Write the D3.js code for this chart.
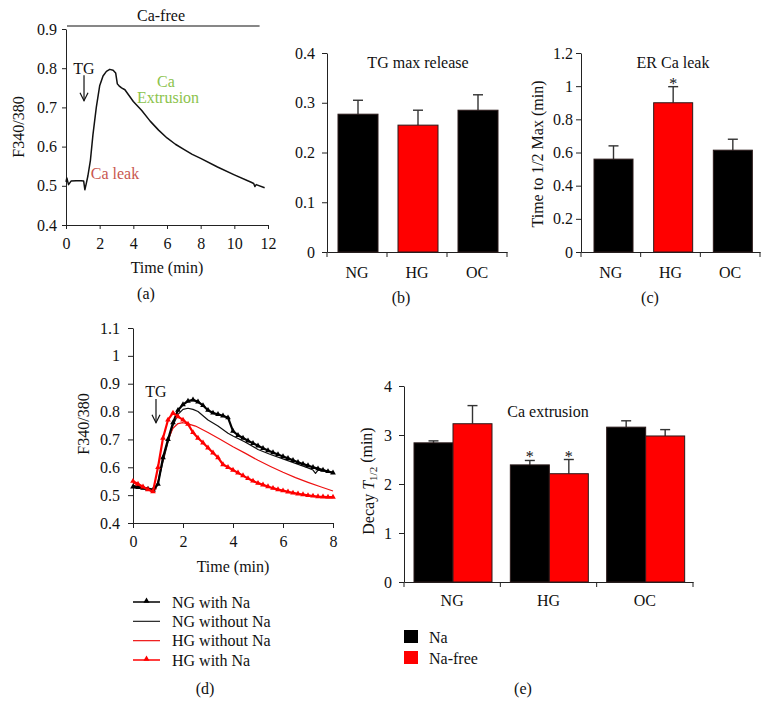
<!DOCTYPE html>
<html lang="en">
<head>
  <meta charset="UTF-8">
  <script src="https://d3js.org/d3.v7.min.js" charset="utf-8"></script>
  <title>ER Ca handling</title>
  <style>
    body { margin: 0; background: #fff; }
    text { font-family: "Liberation Serif", "DejaVu Serif", serif; }
  </style>
</head>
<body>
  <script type="text/javascript">

    const w = 771;
    const h = 721;
    const FONT = "Liberation Serif";
    const FS = 16;

    // ---- (a) single trace in Ca-free ----
    var aTime = [0, 0.05, 0.15, 0.3, 0.6, 0.9, 1.05, 1.12, 1.2, 1.3, 1.45, 1.6, 1.8, 2.0, 2.2, 2.4, 2.6, 2.8, 2.95, 3.05,
      3.15, 3.3, 3.5, 4, 4.5, 5, 5.5, 6, 6.5, 7, 7.5, 8, 9, 10, 11, 11.15, 11.22, 11.3, 11.8];
    var aRatio = [0.51, 0.52, 0.503, 0.512, 0.513, 0.513, 0.512, 0.49, 0.505, 0.525, 0.565, 0.63, 0.70, 0.755, 0.78, 0.792, 0.797, 0.795, 0.788, 0.76,
      0.755, 0.75, 0.745, 0.715, 0.692, 0.665, 0.642, 0.622, 0.606, 0.593, 0.58, 0.57, 0.548, 0.528, 0.509, 0.506, 0.498, 0.503, 0.495];
    var aXTicks = [0, 2, 4, 6, 8, 10, 12];
    var aYTicks = [0.4, 0.5, 0.6, 0.7, 0.8, 0.9];
    var caFreeSpan = [0, 11.5];

    // ---- (b) and (c) ----
    var groups = ["NG", "HG", "OC"];
    var tgMax = [0.277, 0.255, 0.285];
    var tgMaxErr = [0.028, 0.030, 0.031];
    var bYTicks = [0, 0.1, 0.2, 0.3, 0.4];

    var halfMax = [0.56, 0.90, 0.614];
    var halfMaxErr = [0.08, 0.097, 0.066];
    var halfMaxSig = [false, true, false];
    var cYTicks = [0, 0.2, 0.4, 0.6, 0.8, 1, 1.2];

    // ---- (d) traces ----
    var dTime = [0, 0.2, 0.4, 0.6, 0.8, 1.0, 1.2, 1.4, 1.6, 1.8,
      2.0, 2.2, 2.4, 2.6, 2.8, 3.0, 3.2, 3.4, 3.6, 3.8,
      4.0, 4.2, 4.4, 4.6, 4.8, 5.0, 5.2, 5.4, 5.6, 5.8,
      6.0, 6.2, 6.4, 6.6, 6.8, 7.0, 7.2, 7.4, 7.6, 7.8,
      8.0];
    var ngWithNa = [0.530, 0.528, 0.525, 0.522, 0.518, 0.540, 0.635, 0.700, 0.760, 0.805,
      0.825, 0.838, 0.842, 0.835, 0.822, 0.805, 0.795, 0.790, 0.785, 0.778,
      0.730, 0.715, 0.705, 0.695, 0.686, 0.677, 0.668, 0.660, 0.653, 0.646,
      0.639, 0.632, 0.625, 0.618, 0.612, 0.606, 0.600, 0.595, 0.590, 0.585,
      0.580];
    var hgWithNa = [0.550, 0.540, 0.530, 0.520, 0.513, 0.600, 0.705, 0.770, 0.795, 0.782,
      0.770, 0.755, 0.725, 0.705, 0.688, 0.670, 0.652, 0.635, 0.610, 0.600,
      0.590, 0.580, 0.570, 0.560, 0.551, 0.543, 0.537, 0.531, 0.525, 0.520,
      0.516, 0.512, 0.508, 0.505, 0.502, 0.499, 0.497, 0.495, 0.494, 0.493,
      0.493];
    var ngNoNaTime = [0, 0.3, 0.6, 0.9, 1.0, 1.2, 1.4, 1.6, 1.8, 2.0, 2.2, 2.4, 2.6, 2.8,
      3.0, 3.4, 3.8, 4.0, 4.5, 5.0, 5.5, 6.0, 6.5, 7.0, 7.2, 7.3, 7.4, 8.0];
    var ngNoNa = [0.535, 0.53, 0.525, 0.52, 0.545, 0.62, 0.69, 0.75, 0.79, 0.808, 0.812, 0.808, 0.80, 0.785,
      0.77, 0.748, 0.722, 0.712, 0.69, 0.664, 0.646, 0.63, 0.614, 0.598, 0.59, 0.578, 0.59, 0.583];
    var hgNoNaTime = [0, 0.3, 0.6, 0.8, 0.9, 1.0, 1.2, 1.4, 1.6, 1.8, 2.0, 2.2,
      2.5, 3.0, 3.5, 4.0, 4.5, 5.0, 5.5, 6.0, 6.5, 7.0, 7.5, 8.0];
    var hgNoNa = [0.545, 0.53, 0.52, 0.515, 0.52, 0.55, 0.63, 0.70, 0.74, 0.757, 0.76, 0.756,
      0.748, 0.725, 0.70, 0.674, 0.65, 0.625, 0.603, 0.582, 0.563, 0.546, 0.53, 0.515];
    var dXTicks = [0, 2, 4, 6, 8];
    var dYTicks = [0.4, 0.5, 0.6, 0.7, 0.8, 0.9, 1, 1.1];

    // ---- (e) Ca extrusion ----
    var conditions = ["Na", "Na-free"];
    var decayNa = [2.84, 2.39, 3.16];
    var decayNaErr = [0.04, 0.09, 0.13];
    var decayNaSig = [false, true, false];
    var decayNaFree = [3.23, 2.21, 2.98];
    var decayNaFreeErr = [0.37, 0.29, 0.13];
    var decayNaFreeSig = [false, true, false];
    var eYTicks = [0, 1, 2, 3, 4];

    var svg = d3.select("body").append("svg")
      .attr("width", w)
      .attr("height", h);

    function fontAxis(g) {
      g.attr("font-family", FONT).attr("font-size", FS);
      g.selectAll("text").attr("fill", "#111");
      g.selectAll("path, line").attr("stroke", "#222");
    }

    function addText(str, x, y, opts) {
      opts = opts || {};
      return svg.append("text")
        .attr("x", x).attr("y", y)
        .attr("dy", "0.35em")
        .attr("text-anchor", opts.anchor || "middle")
        .attr("font-size", opts.size || FS)
        .attr("fill", opts.color || "#111")
        .text(str);
    }

    function addYLabel(str, x, y) {
      return svg.append("text")
        .attr("transform", "translate(" + x + "," + y + ") rotate(-90)")
        .attr("dy", "0.35em")
        .attr("text-anchor", "middle")
        .attr("font-size", FS)
        .attr("fill", "#111")
        .text(str);
    }

    function arrowDown(x, y1, y2) {
      svg.append("line")
        .attr("x1", x).attr("x2", x).attr("y1", y1).attr("y2", y2)
        .attr("stroke", "#111").attr("stroke-width", 1.2);
      svg.append("path")
        .attr("d", "M" + (x - 4) + "," + (y2 - 8) + " L" + x + "," + y2 + " L" + (x + 4) + "," + (y2 - 8))
        .attr("fill", "none").attr("stroke", "#111").attr("stroke-width", 1.2);
    }

    // ---------- line panel axes ----------
    function linePanel(c) {
      var x = d3.scaleLinear().domain(c.xDomain).range([c.left, c.right]);
      var y = d3.scaleLinear().domain(c.yDomain).range([c.bottom, c.top]);
      svg.append("g")
        .attr("transform", "translate(" + c.left + ",0)")
        .call(d3.axisLeft(y).tickValues(c.yTicks).tickFormat(String).tickSize(c.tick).tickSizeOuter(0).tickPadding(c.yPad))
        .call(fontAxis);
      svg.append("g")
        .attr("transform", "translate(0," + c.bottom + ")")
        .call(d3.axisBottom(x).tickValues(c.xTicks).tickFormat(String).tickSize(c.tick).tickSizeOuter(0).tickPadding(c.xPad))
        .call(fontAxis);
      return { x: x, y: y };
    }

    function drawTrace(sc, times, vals, color, width, marker) {
      var pts = times.map(function (t, i) { return [t, vals[i]]; });
      var line = d3.line()
        .x(function (d) { return sc.x(d[0]); })
        .y(function (d) { return sc.y(d[1]); });
      svg.append("path")
        .datum(pts)
        .attr("d", line)
        .attr("fill", "none")
        .attr("stroke", color)
        .attr("stroke-width", width)
        .attr("stroke-linejoin", "round");
      if (marker) {
        svg.append("g").selectAll("path")
          .data(pts)
          .enter()
          .append("path")
          .attr("d", d3.symbol(d3.symbolTriangle).size(14))
          .attr("transform", function (d) { return "translate(" + sc.x(d[0]) + "," + sc.y(d[1]) + ")"; })
          .attr("fill", color);
      }
    }

    // ---------- bar panel ----------
    function barPanel(c) {
      var x = d3.scaleBand().domain(groups).range([c.left, c.right]);
      var inner = d3.scaleBand().domain(d3.range(c.series.length)).range(c.inner);
      var y = d3.scaleLinear().domain(c.yDomain).range([c.bottom, c.top]);

      svg.append("g")
        .attr("transform", "translate(" + c.left + ",0)")
        .call(d3.axisLeft(y).tickValues(c.yTicks).tickFormat(String).tickSize(5).tickSizeOuter(0).tickPadding(c.yPad))
        .call(fontAxis);

      var xa = svg.append("g")
        .attr("transform", "translate(0," + c.bottom + ")")
        .call(d3.axisBottom(x).tickSize(0).tickPadding(c.xPad))
        .call(fontAxis);
      // ticks sit on group boundaries
      xa.selectAll(".edge")
        .data(groups.map(function (g) { return x(g); }).concat([x.range()[1]]))
        .enter()
        .append("line")
        .attr("x1", function (d) { return d; })
        .attr("x2", function (d) { return d; })
        .attr("y1", 0).attr("y2", 5)
        .attr("stroke", "#222");

      c.series.forEach(function (s, si) {
        var rows = groups.map(function (g, i) {
          return { g: g, v: s.values[i], e: s.errs[i], sig: s.sig[i], fill: s.fill[i] };
        });
        var cx = function (d) { return x(d.g) + inner(si) + inner.bandwidth() / 2; };

        svg.append("g").selectAll("line")
          .data(rows)
          .enter()
          .append("line")
          .attr("x1", cx).attr("x2", cx)
          .attr("y1", function (d) { return y(d.v); })
          .attr("y2", function (d) { return y(d.v + d.e); })
          .attr("stroke", "#333").attr("stroke-width", 1.4);
        svg.append("g").selectAll("line")
          .data(rows)
          .enter()
          .append("line")
          .attr("x1", function (d) { return cx(d) - 5; })
          .attr("x2", function (d) { return cx(d) + 5; })
          .attr("y1", function (d) { return y(d.v + d.e); })
          .attr("y2", function (d) { return y(d.v + d.e); })
          .attr("stroke", "#333").attr("stroke-width", 1.4);

        svg.append("g").selectAll("rect")
          .data(rows)
          .enter()
          .append("rect")
          .attr("x", function (d) { return x(d.g) + inner(si); })
          .attr("y", function (d) { return y(d.v); })
          .attr("width", inner.bandwidth())
          .attr("height", function (d) { return y(0) - y(d.v); })
          .attr("fill", function (d) { return d.fill; })
          .attr("stroke", "#2a1a1a")
          .attr("stroke-width", 1);

        svg.append("g").selectAll("text")
          .data(rows.filter(function (d) { return d.sig; }))
          .enter()
          .append("text")
          .attr("x", cx)
          .attr("y", function (d) { return y(d.v + d.e) + 2; })
          .attr("text-anchor", "middle")
          .attr("font-size", FS)
          .attr("fill", "#111")
          .text("*");
      });
      return { x: x, y: y };
    }

    // ===== (a) =====
    var sa = linePanel({
      left: 66, right: 268, top: 29, bottom: 225,
      xDomain: [0, 12], yDomain: [0.4, 0.9],
      xTicks: aXTicks, yTicks: aYTicks, tick: 4, xPad: 9, yPad: 5
    });
    drawTrace(sa, aTime, aRatio, "#111", 1.5, false);
    svg.append("line")
      .attr("x1", sa.x(caFreeSpan[0]) + 1).attr("x2", sa.x(caFreeSpan[1]))
      .attr("y1", 26).attr("y2", 26)
      .attr("stroke", "#111").attr("stroke-width", 1.2);
    addText("Ca-free", 161, 15);
    addText("TG", sa.x(1.07), sa.y(0.80));
    arrowDown(sa.x(1.07), sa.y(0.782), sa.y(0.717));
    addText("Ca leak", 115, 173, { color: "#c9574f" });
    addText("Ca", 166, 81, { color: "#8cc34c" });
    addText("Extrusion", 168, 97, { color: "#8cc34c" });
    addYLabel("F340/380", 18, 127);
    addText("Time (min)", 167, 267);
    addText("(a)", 146, 293);

    // ===== (b) =====
    barPanel({
      left: 327, right: 507, top: 53, bottom: 252,
      yDomain: [0, 0.4], yTicks: bYTicks, yPad: 7, xPad: 15,
      inner: [11, 51],
      series: [{ values: tgMax, errs: tgMaxErr, sig: [false, false, false], fill: ["#000", "#ff0000", "#000"] }]
    });
    addText("TG max release", 418, 62);
    addText("(b)", 401, 297);

    // ===== (c) =====
    barPanel({
      left: 581, right: 760, top: 53, bottom: 252,
      yDomain: [0, 1.2], yTicks: cYTicks, yPad: 3, xPad: 15,
      inner: [13, 52],
      series: [{ values: halfMax, errs: halfMaxErr, sig: halfMaxSig, fill: ["#000", "#ff0000", "#000"] }]
    });
    addText("ER Ca leak", 673, 62);
    addYLabel("Time to 1/2 Max (min)", 537, 154);
    addText("(c)", 650, 297);

    // ===== (d) =====
    var sd = linePanel({
      left: 133, right: 333, top: 328, bottom: 523,
      xDomain: [0, 8], yDomain: [0.4, 1.1],
      xTicks: dXTicks, yTicks: dYTicks, tick: 5, xPad: 8, yPad: 8
    });
    drawTrace(sd, ngNoNaTime, ngNoNa, "#111", 1.2, false);
    drawTrace(sd, hgNoNaTime, hgNoNa, "#ee1111", 1.2, false);
    drawTrace(sd, dTime, ngWithNa, "#000", 2.2, true);
    drawTrace(sd, dTime, hgWithNa, "#ff0000", 2.2, true);
    addText("TG", sd.x(0.92), sd.y(0.874));
    arrowDown(sd.x(0.92), sd.y(0.845), sd.y(0.76));
    addYLabel("F340/380", 83, 424);
    addText("Time (min)", 233, 566);

    var dLegend = [
      { name: "NG with Na", color: "#000", width: 1.5, marker: true },
      { name: "NG without Na", color: "#222", width: 1.2, marker: false },
      { name: "HG without Na", color: "#ee1111", width: 1.2, marker: false },
      { name: "HG with Na", color: "#ff0000", width: 1.5, marker: true }
    ];
    var legY = d3.scalePoint().domain(dLegend.map(function (d) { return d.name; })).range([602, 660]);
    dLegend.forEach(function (d) {
      var yy = legY(d.name);
      svg.append("line").attr("x1", 133).attr("x2", 160).attr("y1", yy).attr("y2", yy)
        .attr("stroke", d.color).attr("stroke-width", d.width);
      if (d.marker) {
        svg.append("path").attr("d", d3.symbol(d3.symbolTriangle).size(16))
          .attr("transform", "translate(146.5," + (yy - 1) + ")").attr("fill", d.color);
      }
      addText(d.name, 172, yy, { anchor: "start" });
    });
    addText("(d)", 205, 688);

    // ===== (e) =====
    barPanel({
      left: 404, right: 693, top: 386, bottom: 582,
      yDomain: [0, 4], yTicks: eYTicks, yPad: 7, xPad: 13,
      inner: [10, 88],
      series: [
        { values: decayNa, errs: decayNaErr, sig: decayNaSig, fill: ["#000", "#000", "#000"] },
        { values: decayNaFree, errs: decayNaFreeErr, sig: decayNaFreeSig, fill: ["#ff0000", "#ff0000", "#ff0000"] }
      ]
    });
    addText("Ca extrusion", 548, 411);
    var eLab = svg.append("text")
      .attr("transform", "translate(368,481) rotate(-90)")
      .attr("dy", "0.35em")
      .attr("text-anchor", "middle")
      .attr("font-size", FS)
      .attr("fill", "#111");
    eLab.append("tspan").text("Decay ");
    eLab.append("tspan").attr("font-style", "italic").text("T");
    eLab.append("tspan").attr("font-size", 11).attr("dy", "0.3em").text("1/2");
    eLab.append("tspan").attr("dy", "-0.3em").text(" (min)");

    var eColors = ["#000", "#ff0000"];
    var eLegY = d3.scalePoint().domain(conditions).range([637, 658]);
    conditions.forEach(function (cnd, i) {
      svg.append("rect")
        .attr("x", 404).attr("y", eLegY(cnd) - 7)
        .attr("width", 14).attr("height", 13)
        .attr("fill", eColors[i]);
      addText(cnd, 429, eLegY(cnd), { anchor: "start" });
    });
    addText("(e)", 523, 688);

  </script>
</body>
</html>
